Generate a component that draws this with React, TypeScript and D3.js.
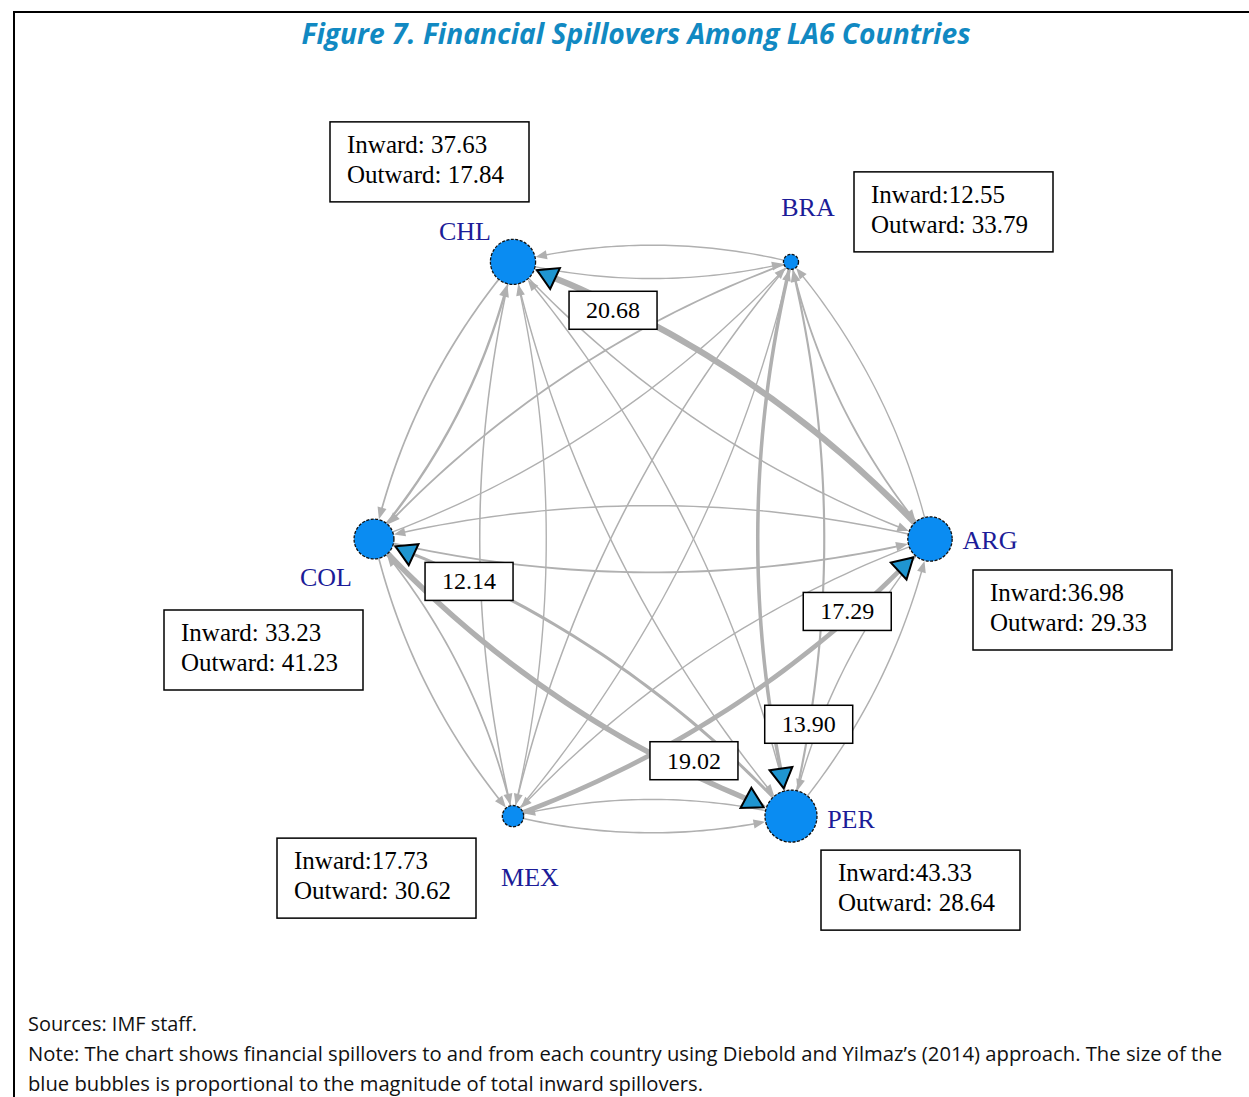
import React from "react";
import * as d3 from "d3";

// countries in circle-layout order (counter-clockwise, starting on the right)
const countries = ["ARG", "BRA", "CHL", "COL", "MEX", "PER"];
const inward = [36.98, 12.55, 37.63, 33.23, 17.73, 43.33];
const outward = [29.33, 33.79, 17.84, 41.23, 30.62, 28.64];
// the source prints some boxes as "Inward:12.55" and some as "Inward: 37.63"
const inwardSpaced = [false, false, true, true, false, false];

// pairwise spillovers, row = from, column = to (rows/cols add up to the totals above)
const spill = [
  [0, 1.0, 20.68, 3.15, 2.0, 2.5],
  [6.5, 0, 2.95, 6.48, 3.96, 13.9],
  [3.5, 1.5, 0, 5.84, 4.0, 3.0],
  [6.69, 0.75, 9.5, 0, 5.27, 19.02],
  [17.29, 0.8, 2.0, 5.62, 0, 4.91],
  [3.0, 8.5, 2.5, 12.14, 2.5, 0],
];
const LABEL_MIN = 12; // edges above this get a value box

const title = "Figure 7. Financial Spillovers Among LA6 Countries";
const notes = [
  "Sources: IMF staff.",
  "Note: The chart shows financial spillovers to and from each country using Diebold and Yilmaz\u2019s (2014) approach. The size of the",
  "blue bubbles is proportional to the magnitude of total inward spillovers.",
];

// ---- layout / style ----
const W = 1249;
const H = 1097;
const CX = 652;
const CY = 539;
const RX = 278;
const RY = 320;
const CURVE = 0.12;
const SERIF = "'Liberation Serif', 'Times New Roman', serif";
const SANS = "'Open Sans', 'Noto Sans', sans-serif";
const EDGE = "#b0b0b0";
const NODE = "#0a8cf2";
const MARK = "#1f95d0";

const nameOffset: Record<string, [number, number]> = {
  ARG: [60, 1], BRA: [17, -55], CHL: [-48, -31], COL: [-48, 38], MEX: [17, 61], PER: [60, 3],
};
const boxOffset: Record<string, [number, number]> = {
  ARG: [43, 31], BRA: [63, -90], CHL: [-183, -140], COL: [-210, 71], MEX: [-236, 22], PER: [30, 34],
};
const labelNudge: Record<string, [number, number]> = {
  "ARG-CHL": [6, 9], "PER-COL": [1, 3], "MEX-ARG": [-10, 1], "BRA-PER": [39, 19], "COL-PER": [-3, -16],
};
const markerAngle: Record<string, number> = {
  "ARG-CHL": 85, "PER-COL": 85, "MEX-ARG": 77, "BRA-PER": 82, "COL-PER": -92,
};
const noteLength = [169, 1194, 675];

type P = [number, number];

const bez = (p0: P, c: P, p2: P, t: number): P => {
  const u = 1 - t;
  return [
    u * u * p0[0] + 2 * u * t * c[0] + t * t * p2[0],
    u * u * p0[1] + 2 * u * t * c[1] + t * t * p2[1],
  ];
};

// parameter where the curve is `dist` away from `center` (near start or near end)
const tAt = (f: (t: number) => P, center: P, dist: number, nearEnd: boolean) => {
  let lo = nearEnd ? 0.5 : 0;
  let hi = nearEnd ? 1 : 0.5;
  for (let k = 0; k < 40; k++) {
    const mid = (lo + hi) / 2;
    const p = f(mid);
    const d = Math.hypot(p[0] - center[0], p[1] - center[1]);
    if (nearEnd) {
      if (d > dist) lo = mid;
      else hi = mid;
    } else {
      if (d < dist) lo = mid;
      else hi = mid;
    }
  }
  return (lo + hi) / 2;
};

export default function App() {
  const n = countries.length;
  const xs = d3.scaleLinear().domain([-1, 1]).range([CX - RX, CX + RX]);
  const ys = d3.scaleLinear().domain([-1, 1]).range([CY - RY, CY + RY]);
  const ang = d3.scaleLinear().domain([0, n]).range([0, -2 * Math.PI]);
  const rScale = d3.scaleLinear().domain([0, d3.max(inward) as number]).range([0, 26]);
  const maxSpill = d3.max(spill.flat()) as number;
  const wScale = d3.scalePow().exponent(2).domain([0, maxSpill]).range([1.35, 6.2]);
  const line = d3.line();

  const nodes = countries.map((name, i) => ({
    name,
    x: xs(Math.cos(ang(i))),
    y: ys(Math.sin(ang(i))),
    r: rScale(inward[i]),
  }));

  const edges: any[] = [];
  spill.forEach((row, i) =>
    row.forEach((v, j) => {
      if (i === j) return;
      const a = nodes[i];
      const b = nodes[j];
      const p0: P = [a.x, a.y];
      const p2: P = [b.x, b.y];
      const dx = b.x - a.x;
      const dy = b.y - a.y;
      const c: P = [(a.x + b.x) / 2 - CURVE * dy, (a.y + b.y) / 2 + CURVE * dx];
      const f = (t: number) => bez(p0, c, p2, t);
      const w = wScale(v);
      const len = 9.5 + w * 1.3;
      const hw = 3.6 + w * 0.6;
      const t0 = tAt(f, p0, a.r, false);
      const tTip = tAt(f, p2, b.r + 0.5, true);
      const tBase = tAt(f, p2, b.r + 0.5 + len, true);
      const pts = d3.range(41).map((k) => f(t0 + ((tBase + 0.004 - t0) * k) / 40));
      const tip = f(tTip);
      const base = f(tBase);
      const ux = (tip[0] - base[0]) / Math.hypot(tip[0] - base[0], tip[1] - base[1]);
      const uy = (tip[1] - base[1]) / Math.hypot(tip[0] - base[0], tip[1] - base[1]);
      const head = [tip, [base[0] - uy * hw, base[1] + ux * hw], [base[0] + uy * hw, base[1] - ux * hw]];
      const key = `${a.name}-${b.name}`;
      edges.push({ key, v, w, f, pts, head, target: b });
    })
  );
  edges.sort((p, q) => p.v - q.v);
  const big = edges.filter((e) => e.v > LABEL_MIN);

  return (
    <svg
      width={W}
      height={H}
      style={{ position: "absolute", left: 0, top: 0, background: "#fff" }}
    >
      <rect width={W} height={H} fill="#fff" />
      <path d={`M14,${H} V12 H${W}`} fill="none" stroke="#000" strokeWidth={2} />
      <text
        x={636}
        y={44}
        textAnchor="middle"
        fontFamily={SANS}
        fontWeight="bold"
        fontStyle="italic"
        fontSize={28}
        fill="#1189c2"
        textLength={669}
        lengthAdjust="spacingAndGlyphs"
      >
        {title}
      </text>

      {/* edges */}
      <g>
        {edges.map((e) => (
          <g key={e.key}>
            <path d={line(e.pts) as string} fill="none" stroke={EDGE} strokeWidth={e.w} />
            <polygon points={e.head.map((p: P) => p.join(",")).join(" ")} fill={EDGE} />
          </g>
        ))}
      </g>

      {/* nodes */}
      {nodes.map((d) => (
        <circle
          key={d.name}
          cx={d.x}
          cy={d.y}
          r={d.r}
          fill={NODE}
          stroke="#111"
          strokeWidth={1.3}
          strokeDasharray="3,1.5"
        />
      ))}

      {/* blue markers on the labelled edges */}
      {big.map((e) => {
        const t = tAt(e.f, [e.target.x, e.target.y], e.target.r + 16, true);
        const m = e.f(t);
        const th = ((markerAngle[e.key] ?? 90) * Math.PI) / 180;
        const R = 13.3;
        const pts = [0, 1, 2].map((k) => [
          m[0] + R * Math.cos(th + (k * 2 * Math.PI) / 3),
          m[1] + R * Math.sin(th + (k * 2 * Math.PI) / 3),
        ]);
        return (
          <polygon
            key={"m" + e.key}
            points={pts.map((p) => p.join(",")).join(" ")}
            fill={MARK}
            stroke="#000"
            strokeWidth={2}
            strokeLinejoin="miter"
          />
        );
      })}

      {/* edge value boxes */}
      {big.map((e) => {
        const p = e.f(0.8);
        const nd = labelNudge[e.key] ?? [0, 0];
        const x = p[0] + nd[0];
        const y = p[1] + nd[1];
        return (
          <g key={"l" + e.key}>
            <rect x={x - 44} y={y - 19} width={88} height={38} fill="#fff" stroke="#000" strokeWidth={1.5} />
            <text x={x} y={y + 8} textAnchor="middle" fontFamily={SERIF} fontSize={24} fill="#000">
              {e.v.toFixed(2)}
            </text>
          </g>
        );
      })}

      {/* inward / outward boxes and names */}
      {nodes.map((d, i) => {
        const [bx, by] = boxOffset[d.name];
        const [nx, ny] = nameOffset[d.name];
        const x = d.x + bx;
        const y = d.y + by;
        return (
          <g key={"b" + d.name}>
            <rect x={x} y={y} width={199} height={80} fill="#fff" stroke="#000" strokeWidth={1.5} />
            <text x={x + 17} y={y + 31} fontFamily={SERIF} fontSize={25} fill="#000">
              {`Inward:${inwardSpaced[i] ? " " : ""}${inward[i].toFixed(2)}`}
            </text>
            <text x={x + 17} y={y + 61} fontFamily={SERIF} fontSize={25} fill="#000">
              {`Outward: ${outward[i].toFixed(2)}`}
            </text>
            <text
              x={d.x + nx}
              y={d.y + ny + 9}
              textAnchor="middle"
              fontFamily={SERIF}
              fontSize={26}
              fill="#1c1c98"
            >
              {d.name}
            </text>
          </g>
        );
      })}

      {notes.map((t, i) => (
        <text
          key={"n" + i}
          x={28}
          y={1031 + i * 30}
          fontFamily={SANS}
          fontSize={20}
          fill="#111"
          textLength={noteLength[i]}
          lengthAdjust="spacingAndGlyphs"
        >
          {t}
        </text>
      ))}
    </svg>
  );
}
